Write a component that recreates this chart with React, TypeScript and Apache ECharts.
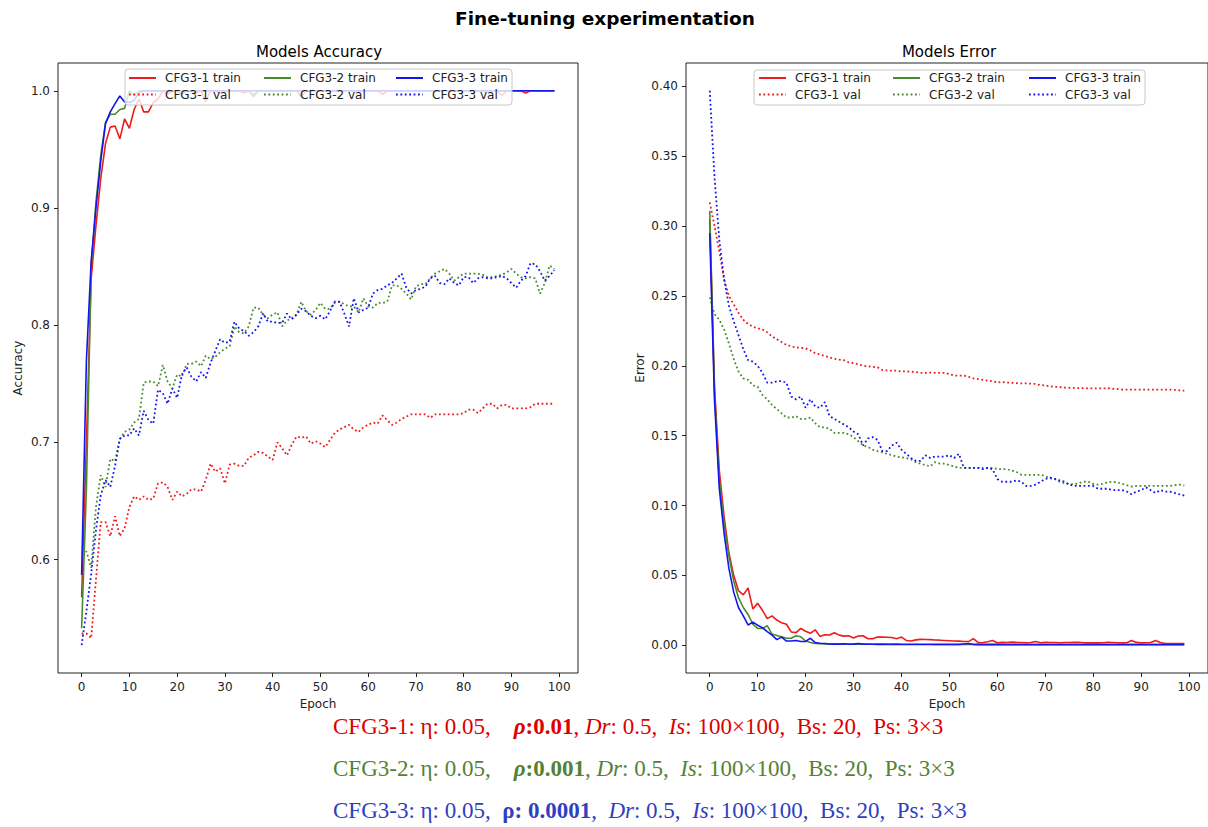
import React, { useEffect, useRef } from "react";
import * as echarts from "echarts";

const FONT = "DejaVu Sans";
const epochs: number[] = Array.from({ length: 100 }, (_, i) => i);
const seriesNames = ["CFG3-1 train", "CFG3-1 val", "CFG3-2 train", "CFG3-2 val", "CFG3-3 train", "CFG3-3 val"];
const xTickValues = [0, 10, 20, 30, 40, 50, 60, 70, 80, 90, 100];
const accTickValues = [0.6, 0.7, 0.8, 0.9, 1.0];
const errTickValues = [0, 0.05, 0.1, 0.15, 0.2, 0.25, 0.3, 0.35, 0.4];

// ---- Models Accuracy ----
const accTrain1 = [
  0.568, 0.700, 0.840, 0.885, 0.925, 0.955, 0.969, 0.970, 0.959, 0.976,
  0.968, 0.984, 0.993, 0.982, 0.982, 0.990, 0.993, 1.000, 0.997, 1.000,
  1.000, 0.997, 1.000, 1.000, 0.998, 1.000, 0.991, 1.000, 1.000, 0.998,
  1.000, 1.000, 1.000, 1.000, 0.998, 1.000, 0.995, 1.000, 1.000, 1.000,
  1.000, 1.000, 1.000, 1.000, 1.000, 1.000, 0.995, 1.000, 1.000, 1.000,
  1.000, 1.000, 1.000, 1.000, 1.000, 1.000, 1.000, 1.000, 1.000, 1.000,
  1.000, 1.000, 1.000, 0.997, 1.000, 1.000, 1.000, 1.000, 1.000, 1.000,
  1.000, 1.000, 1.000, 1.000, 1.000, 1.000, 1.000, 1.000, 1.000, 1.000,
  1.000, 1.000, 1.000, 1.000, 1.000, 1.000, 1.000, 1.000, 0.996, 1.000,
  1.000, 1.000, 1.000, 0.998, 1.000, 1.000, 1.000, 1.000, 1.000, 1.000,
];
const accVal1 = [
  0.537, 0.537, 0.533, 0.583, 0.632, 0.632, 0.620, 0.637, 0.620, 0.627,
  0.645, 0.654, 0.651, 0.654, 0.651, 0.652, 0.665, 0.666, 0.662, 0.651,
  0.658, 0.654, 0.656, 0.660, 0.660, 0.658, 0.668, 0.682, 0.675, 0.678,
  0.665, 0.681, 0.682, 0.680, 0.680, 0.687, 0.689, 0.692, 0.691, 0.688,
  0.685, 0.700, 0.695, 0.689, 0.698, 0.705, 0.704, 0.705, 0.699, 0.701,
  0.699, 0.696, 0.702, 0.708, 0.711, 0.713, 0.715, 0.711, 0.709, 0.713,
  0.715, 0.717, 0.716, 0.723, 0.719, 0.715, 0.717, 0.720, 0.722, 0.724,
  0.724, 0.724, 0.724, 0.721, 0.724, 0.724, 0.724, 0.724, 0.724, 0.724,
  0.725, 0.728, 0.728, 0.725, 0.729, 0.733, 0.733, 0.729, 0.732, 0.732,
  0.729, 0.729, 0.729, 0.729, 0.730, 0.733, 0.733, 0.733, 0.733, 0.733,
];
const accTrain2 = [
  0.5415, 0.660, 0.850, 0.905, 0.945, 0.973, 0.980, 0.980, 0.984, 0.985,
  1.000, 0.996, 1.000, 1.000, 1.000, 1.000, 1.000, 1.000, 1.000, 1.000,
  1.000, 1.000, 1.000, 1.000, 1.000, 1.000, 1.000, 1.000, 1.000, 1.000,
  1.000, 1.000, 1.000, 1.000, 1.000, 1.000, 0.997, 1.000, 1.000, 1.000,
  1.000, 1.000, 1.000, 1.000, 1.000, 1.000, 1.000, 1.000, 1.000, 1.000,
  1.000, 1.000, 1.000, 1.000, 1.000, 1.000, 1.000, 1.000, 1.000, 1.000,
  1.000, 1.000, 1.000, 1.000, 1.000, 1.000, 1.000, 1.000, 1.000, 1.000,
  1.000, 1.000, 1.000, 1.000, 1.000, 1.000, 1.000, 1.000, 1.000, 1.000,
  1.000, 1.000, 1.000, 1.000, 1.000, 1.000, 1.000, 1.000, 1.000, 1.000,
  1.000, 1.000, 1.000, 1.000, 1.000, 1.000, 1.000, 1.000, 1.000, 1.000,
];
const accVal2 = [
  0.605, 0.607, 0.593, 0.645, 0.672, 0.662, 0.686, 0.684, 0.703, 0.709,
  0.711, 0.717, 0.720, 0.751, 0.752, 0.752, 0.748, 0.766, 0.752, 0.746,
  0.758, 0.756, 0.767, 0.767, 0.769, 0.765, 0.774, 0.771, 0.773, 0.777,
  0.780, 0.782, 0.799, 0.794, 0.793, 0.799, 0.815, 0.815, 0.809, 0.806,
  0.809, 0.811, 0.799, 0.804, 0.806, 0.809, 0.820, 0.812, 0.809, 0.813,
  0.819, 0.814, 0.814, 0.819, 0.820, 0.818, 0.816, 0.816, 0.811, 0.823,
  0.816, 0.815, 0.819, 0.819, 0.820, 0.834, 0.834, 0.831, 0.827, 0.822,
  0.833, 0.835, 0.835, 0.840, 0.844, 0.846, 0.848, 0.844, 0.838, 0.841,
  0.844, 0.844, 0.844, 0.844, 0.843, 0.841, 0.841, 0.842, 0.843, 0.845,
  0.848, 0.844, 0.841, 0.840, 0.841, 0.840, 0.827, 0.836, 0.851, 0.848,
];
const accTrain3 = [
  0.587, 0.770, 0.855, 0.900, 0.940, 0.972, 0.982, 0.989, 0.9956, 0.9905,
  0.990, 0.992, 0.998, 1.000, 1.000, 1.000, 1.000, 1.000, 1.000, 1.000,
  1.000, 1.000, 1.000, 1.000, 1.000, 1.000, 1.000, 1.000, 1.000, 1.000,
  1.000, 1.000, 1.000, 1.000, 1.000, 1.000, 1.000, 1.000, 1.000, 1.000,
  1.000, 1.000, 1.000, 1.000, 1.000, 1.000, 1.000, 1.000, 1.000, 1.000,
  1.000, 1.000, 1.000, 1.000, 1.000, 1.000, 1.000, 1.000, 1.000, 1.000,
  1.000, 1.000, 1.000, 1.000, 1.000, 1.000, 1.000, 1.000, 1.000, 1.000,
  1.000, 1.000, 1.000, 1.000, 1.000, 1.000, 1.000, 1.000, 1.000, 1.000,
  1.000, 1.000, 1.000, 1.000, 1.000, 1.000, 1.000, 1.000, 1.000, 1.000,
  1.000, 1.000, 1.000, 1.000, 1.000, 1.000, 1.000, 1.000, 1.000, 1.000,
];
const accVal3 = [
  0.527, 0.556, 0.588, 0.625, 0.655, 0.668, 0.662, 0.680, 0.703, 0.706,
  0.706, 0.712, 0.706, 0.727, 0.719, 0.716, 0.745, 0.742, 0.733, 0.746,
  0.738, 0.758, 0.764, 0.756, 0.752, 0.760, 0.755, 0.768, 0.778, 0.788,
  0.785, 0.786, 0.803, 0.797, 0.795, 0.791, 0.794, 0.799, 0.810, 0.803,
  0.803, 0.802, 0.802, 0.810, 0.805, 0.809, 0.814, 0.812, 0.808, 0.806,
  0.808, 0.805, 0.812, 0.820, 0.820, 0.810, 0.799, 0.823, 0.811, 0.813,
  0.815, 0.827, 0.830, 0.831, 0.834, 0.836, 0.840, 0.844, 0.832, 0.827,
  0.830, 0.831, 0.833, 0.840, 0.842, 0.836, 0.835, 0.840, 0.836, 0.834,
  0.841, 0.841, 0.836, 0.840, 0.841, 0.840, 0.840, 0.841, 0.842, 0.840,
  0.836, 0.832, 0.838, 0.842, 0.853, 0.852, 0.846, 0.838, 0.842, 0.847,
];

// ---- Models Error ----
const errTrain1 = [
  0.305, 0.185, 0.125, 0.092, 0.066, 0.050, 0.039, 0.036, 0.041, 0.026,
  0.030, 0.025, 0.019, 0.021, 0.018, 0.016, 0.015, 0.0095, 0.009, 0.012,
  0.010, 0.0085, 0.011, 0.0063, 0.0075, 0.0073, 0.0089, 0.0072, 0.0065, 0.0068,
  0.0051, 0.0066, 0.0068, 0.0046, 0.0047, 0.0058, 0.0058, 0.0057, 0.0055, 0.0046,
  0.0058, 0.0034, 0.0030, 0.0038, 0.0042, 0.0041, 0.0040, 0.0037, 0.0036, 0.0034,
  0.0032, 0.0030, 0.0029, 0.0027, 0.0026, 0.0047, 0.0018, 0.0019, 0.0025, 0.0034,
  0.0018, 0.0020, 0.0019, 0.0022, 0.0020, 0.0019, 0.0018, 0.0019, 0.0027, 0.0018,
  0.0020, 0.0019, 0.0019, 0.0018, 0.0019, 0.0019, 0.0020, 0.0021, 0.0018, 0.0017,
  0.0018, 0.0017, 0.0018, 0.0020, 0.0019, 0.0018, 0.0017, 0.0018, 0.0034, 0.0020,
  0.0017, 0.0018, 0.0019, 0.0034, 0.0019, 0.0012, 0.0011, 0.0011, 0.0011, 0.0011,
];
const errVal1 = [
  0.317, 0.300, 0.282, 0.262, 0.250, 0.244, 0.238, 0.233, 0.230, 0.228,
  0.227, 0.226, 0.224, 0.221, 0.219, 0.217, 0.215, 0.214, 0.213, 0.213,
  0.2125, 0.211, 0.209, 0.208, 0.207, 0.206, 0.205, 0.2045, 0.204, 0.2025,
  0.202, 0.201, 0.200, 0.1997, 0.1993, 0.199, 0.197, 0.1967, 0.1965, 0.1965,
  0.196, 0.196, 0.1958, 0.1955, 0.195, 0.195, 0.1952, 0.195, 0.195, 0.195,
  0.194, 0.193, 0.193, 0.193, 0.1922, 0.191, 0.1905, 0.190, 0.1893, 0.189,
  0.188, 0.1885, 0.188, 0.1878, 0.1876, 0.1874, 0.1875, 0.1872, 0.187, 0.1862,
  0.186, 0.1853, 0.185, 0.1848, 0.1845, 0.1843, 0.1842, 0.184, 0.184, 0.1838,
  0.1838, 0.1838, 0.1838, 0.184, 0.1836, 0.1834, 0.183, 0.183, 0.183, 0.183,
  0.183, 0.183, 0.183, 0.183, 0.183, 0.183, 0.183, 0.1828, 0.1825, 0.1822,
];
const errTrain2 = [
  0.311, 0.180, 0.118, 0.087, 0.064, 0.046, 0.034, 0.027, 0.022, 0.015,
  0.012, 0.012, 0.014, 0.008, 0.007, 0.006, 0.005, 0.005, 0.0068, 0.006,
  0.003, 0.002, 0.0012, 0.0010, 0.0009, 0.0009, 0.0008, 0.0009, 0.0008, 0.0008,
  0.0008, 0.0009, 0.0008, 0.0008, 0.0007, 0.0008, 0.0008, 0.0007, 0.0007, 0.0008,
  0.0007, 0.0007, 0.0007, 0.0007, 0.0007, 0.0007, 0.0007, 0.0006, 0.0006, 0.0006,
  0.0006, 0.0006, 0.0006, 0.0006, 0.0006, 0.0006, 0.0006, 0.0006, 0.0006, 0.0006,
  0.0006, 0.0006, 0.0005, 0.0005, 0.0005, 0.0005, 0.0005, 0.0005, 0.0005, 0.0005,
  0.0005, 0.0005, 0.0005, 0.0005, 0.0005, 0.0005, 0.0005, 0.0005, 0.0005, 0.0005,
  0.0005, 0.0005, 0.0005, 0.0005, 0.0005, 0.0005, 0.0005, 0.0005, 0.0005, 0.0005,
  0.0005, 0.0005, 0.0005, 0.0005, 0.0005, 0.0005, 0.0005, 0.0005, 0.0005, 0.0005,
];
const errVal2 = [
  0.249, 0.237, 0.233, 0.226, 0.216, 0.205, 0.196, 0.191, 0.190, 0.186,
  0.185, 0.179, 0.176, 0.172, 0.169, 0.166, 0.163, 0.163, 0.164, 0.162,
  0.162, 0.163, 0.159, 0.156, 0.156, 0.155, 0.152, 0.152, 0.152, 0.151,
  0.149, 0.146, 0.143, 0.142, 0.140, 0.139, 0.138, 0.137, 0.136, 0.135,
  0.1345, 0.134, 0.133, 0.131, 0.130, 0.129, 0.128, 0.131, 0.130, 0.130,
  0.129, 0.128, 0.127, 0.127, 0.127, 0.127, 0.127, 0.127, 0.127, 0.127,
  0.126, 0.126, 0.126, 0.125, 0.124, 0.122, 0.122, 0.122, 0.122, 0.122,
  0.121, 0.1195, 0.119, 0.117, 0.116, 0.1155, 0.115, 0.116, 0.117, 0.117,
  0.1155, 0.115, 0.1155, 0.1167, 0.117, 0.1165, 0.1155, 0.1145, 0.1135, 0.114,
  0.114, 0.114, 0.114, 0.114, 0.114, 0.114, 0.114, 0.1145, 0.115, 0.1143,
];
const errTrain3 = [
  0.295, 0.175, 0.112, 0.080, 0.055, 0.038, 0.027, 0.021, 0.0145, 0.0165,
  0.0143, 0.0125, 0.0098, 0.0072, 0.0040, 0.0058, 0.0030, 0.0030, 0.0034, 0.0027,
  0.0027, 0.0050, 0.0019, 0.0014, 0.0012, 0.0009, 0.0008, 0.0008, 0.0010, 0.0007,
  0.0008, 0.0012, 0.0008, 0.0007, 0.0007, 0.0006, 0.0006, 0.0006, 0.0006, 0.0006,
  0.0005, 0.0005, 0.0005, 0.0005, 0.0005, 0.0005, 0.0005, 0.0005, 0.0005, 0.0005,
  0.0005, 0.0005, 0.0005, 0.0009, 0.0012, 0.0005, 0.0004, 0.0004, 0.0004, 0.0004,
  0.0004, 0.0004, 0.0004, 0.0004, 0.0004, 0.0004, 0.0004, 0.0004, 0.0004, 0.0004,
  0.0004, 0.0004, 0.0004, 0.0004, 0.0004, 0.0004, 0.0004, 0.0004, 0.0004, 0.0004,
  0.0004, 0.0004, 0.0004, 0.0004, 0.0004, 0.0004, 0.0004, 0.0004, 0.0004, 0.0004,
  0.0004, 0.0004, 0.0004, 0.0004, 0.0004, 0.0004, 0.0004, 0.0004, 0.0004, 0.0004,
];
const errVal3 = [
  0.397, 0.335, 0.290, 0.262, 0.243, 0.232, 0.222, 0.212, 0.204, 0.203,
  0.200, 0.195, 0.188, 0.188, 0.189, 0.189, 0.188, 0.178, 0.176, 0.178,
  0.170, 0.176, 0.171, 0.170, 0.174, 0.164, 0.162, 0.160, 0.158, 0.156,
  0.153, 0.151, 0.143, 0.148, 0.149, 0.147, 0.139, 0.139, 0.143, 0.145,
  0.140, 0.137, 0.134, 0.132, 0.132, 0.136, 0.134, 0.135, 0.135, 0.135,
  0.136, 0.134, 0.137, 0.127, 0.127, 0.127, 0.127, 0.126, 0.127, 0.126,
  0.119, 0.117, 0.117, 0.117, 0.118, 0.117, 0.114, 0.114, 0.115, 0.117,
  0.119, 0.120, 0.119, 0.118, 0.117, 0.115, 0.114, 0.114, 0.114, 0.114,
  0.114, 0.112, 0.112, 0.112, 0.111, 0.111, 0.111, 0.110, 0.108, 0.110,
  0.111, 0.113, 0.111, 0.109, 0.111, 0.110, 0.110, 0.109, 0.108, 0.107,
];

const RED = "#ec1c1c";
const GREEN = "#4a8a2a";
const BLUE = "#1414f0";
const lineColors = [RED, RED, GREEN, GREEN, BLUE, BLUE];

const captionColors = ["#dc0000", "#548235", "#2f3fc0"];

function lineSeries(name: string, data: number[], color: string, dotted: boolean, idx: number) {
  return {
    type: "line",
    name,
    xAxisIndex: idx,
    yAxisIndex: idx,
    z: 2,
    data: epochs.map((e, i) => [e, data[i]]),
    showSymbol: false,
    symbol: "none",
    silent: true,
    emphasis: { disabled: true },
    itemStyle: { color },
    lineStyle: dotted
      ? { color, width: 1.8, type: [1.8, 2.6] }
      : { color, width: 1.6, type: "solid" },
  };
}

function xAxis(gridIndex: number) {
  return {
    type: "value",
    gridIndex,
    min: -4.95,
    max: 103.95,
    name: "Epoch",
    nameLocation: "middle",
    nameGap: 24,
    nameTextStyle: { fontFamily: FONT, fontSize: 12, color: "#222" },
    axisLine: { show: false, onZero: false },
    splitLine: { show: false },
    axisTick: { show: true, inside: false, length: 4, lineStyle: { color: "#222" }, customValues: xTickValues },
    axisLabel: {
      show: true,
      margin: 8,
      fontFamily: FONT,
      fontSize: 12,
      color: "#222",
      customValues: xTickValues,
      formatter: (v: number) => String(Math.round(v)),
    },
  };
}

function yAxis(gridIndex: number, min: number, max: number, ticks: number[], digits: number, name: string, nameGap: number) {
  return {
    type: "value",
    gridIndex,
    min,
    max,
    name,
    nameLocation: "middle",
    nameGap,
    nameTextStyle: { fontFamily: FONT, fontSize: 12, color: "#222" },
    axisLine: { show: false, onZero: false },
    splitLine: { show: false },
    axisTick: { show: true, inside: false, length: 4, lineStyle: { color: "#222" }, customValues: ticks },
    axisLabel: {
      show: true,
      margin: 8,
      fontFamily: FONT,
      fontSize: 12,
      color: "#222",
      customValues: ticks,
      formatter: (v: number) => v.toFixed(digits),
    },
  };
}

function legendColumn(names: string[], left: number, top: number) {
  return {
    data: names,
    orient: "vertical",
    left,
    top,
    z: 20,
    padding: 0,
    itemWidth: 27,
    itemHeight: 12,
    itemGap: 4.6,
    selectedMode: false,
    itemStyle: { opacity: 0, borderWidth: 0 },
    textStyle: { fontFamily: FONT, fontSize: 12, color: "#222", padding: [0, 0, 0, 4] },
  };
}

function captionText(idx: number, y: number, parts: string) {
  const c = captionColors[idx];
  const base = { fill: c, fontFamily: "Liberation Serif", fontSize: 23 };
  return {
    type: "text",
    x: 333,
    y,
    style: {
      text: parts,
      verticalAlign: "middle",
      align: "left",
      fill: c,
      fontFamily: "Liberation Serif",
      fontSize: 23,
      rich: {
        n: { ...base },
        i: { ...base, fontStyle: "italic" },
        b: { ...base, fontWeight: "bold" },
        bi: { ...base, fontWeight: "bold", fontStyle: "italic" },
      },
    },
  };
}

const captionLines = [
  "{n|CFG3-1: η: 0.05,    }{bi|ρ}{b|:}{b|0.01}{n|, }{i|Dr}{n|: 0.5,  }{i|Is}{n|: 100×100,  Bs: 20,  Ps: 3×3}",
  "{n|CFG3-2: η: 0.05,    }{bi|ρ}{b|:}{b|0.001}{n|, }{i|Dr}{n|: 0.5,  }{i|Is}{n|: 100×100,  Bs: 20,  Ps: 3×3}",
  "{n|CFG3-3: η: 0.05,  }{b|ρ: 0.0001}{n|,  }{i|Dr}{n|: 0.5,  }{i|Is}{n|: 100×100,  Bs: 20,  Ps: 3×3}",
];

export default function App() {
  const ref = useRef<HTMLDivElement>(null);
  useEffect(() => {
    if (!ref.current) return;
    const chart = echarts.init(ref.current, null, { renderer: "svg" });
    const accData = [accTrain1, accVal1, accTrain2, accVal2, accTrain3, accVal3];
    const errData = [errTrain1, errVal1, errTrain2, errVal2, errTrain3, errVal3];
    const series: any[] = [];
    seriesNames.forEach((n, i) => series.push(lineSeries(n, accData[i], lineColors[i], i % 2 === 1, 0)));
    seriesNames.forEach((n, i) => series.push(lineSeries(n, errData[i], lineColors[i], i % 2 === 1, 1)));

    const option: any = {
      animation: false,
      backgroundColor: "#ffffff",
      grid: [
        { left: 58, top: 63, width: 520, height: 610, show: true, borderColor: "#222", borderWidth: 1, backgroundColor: "transparent" },
        { left: 686, top: 63, width: 526, height: 610, show: true, borderColor: "#222", borderWidth: 1, backgroundColor: "transparent" },
      ],
      xAxis: [xAxis(0), xAxis(1)],
      yAxis: [
        yAxis(0, 0.5033, 1.0237, accTickValues, 1, "Accuracy", 34),
        yAxis(1, -0.0199, 0.4168, errTickValues, 2, "Error", 40),
      ],
      legend: [
        legendColumn([seriesNames[0], seriesNames[1]], 128, 72),
        legendColumn([seriesNames[2], seriesNames[3]], 263, 72),
        legendColumn([seriesNames[4], seriesNames[5]], 395, 72),
        legendColumn([seriesNames[0], seriesNames[1]], 758, 72),
        legendColumn([seriesNames[2], seriesNames[3]], 892, 72),
        legendColumn([seriesNames[4], seriesNames[5]], 1028, 72),
      ],
      graphic: {
        z: 10,
        elements: [
          {
            type: "text",
            x: 605,
            y: 18,
            style: { text: "Fine-tuning experimentation", fontFamily: FONT, fontSize: 18.5, fontWeight: "bold", fill: "#000", align: "center", verticalAlign: "middle" },
          },
          {
            type: "text",
            x: 319,
            y: 52,
            style: { text: "Models Accuracy", fontFamily: FONT, fontSize: 15, fill: "#000", align: "center", verticalAlign: "middle" },
          },
          {
            type: "text",
            x: 949,
            y: 52,
            style: { text: "Models Error", fontFamily: FONT, fontSize: 15, fill: "#000", align: "center", verticalAlign: "middle" },
          },
          {
            type: "rect",
            z: 10,
            shape: { x: 125, y: 69, width: 387, height: 36, r: 3 },
            style: { fill: "rgba(255,255,255,0.8)", stroke: "#c8c8c8", lineWidth: 1 },
          },
          {
            type: "rect",
            z: 10,
            shape: { x: 754, y: 70, width: 391, height: 35, r: 3 },
            style: { fill: "rgba(255,255,255,0.8)", stroke: "#c8c8c8", lineWidth: 1 },
          },
          captionText(0, 726, captionLines[0]),
          captionText(1, 768, captionLines[1]),
          captionText(2, 810, captionLines[2]),
        ],
      },
      series,
    };
    chart.setOption(option);
    return () => chart.dispose();
  }, []);
  return <div ref={ref} style={{ position: "absolute", left: 0, top: 0, width: 1208, height: 827 }} />;
}
